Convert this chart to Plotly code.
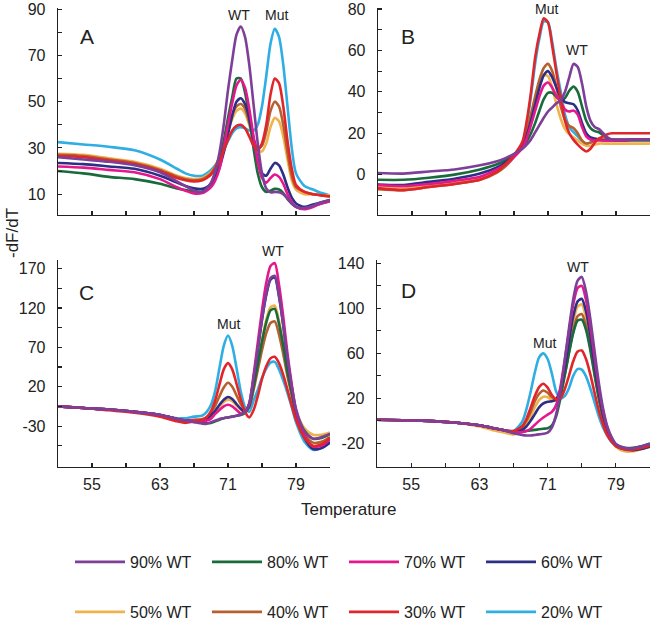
import plotly.graph_objects as go

# ---------------- data ----------------
TEMP = [51, 54, 57, 60, 63, 65, 66, 67, 68, 68.5, 69, 69.5, 70, 70.5, 71, 71.5, 72, 72.5,
        73, 73.5, 74, 74.5, 75, 75.5, 76, 76.5, 77, 77.5, 78, 78.5, 79, 80, 81, 82, 83]

SERIES = ["90% WT", "80% WT", "70% WT", "60% WT", "50% WT", "40% WT", "30% WT", "20% WT"]

# Panel A
A_90 = [26, 25, 24, 22.5, 19.5, 15.5, 13.5, 11.5, 11, 12.5, 15, 20, 28, 40, 55, 68, 79, 82.5, 78, 66, 49, 32, 19, 12.5, 10.8, 11, 10.8, 10, 8, 6, 4.5, 4, 5, 6.5, 7.5]
A_80 = [20, 19, 17.5, 16.5, 14.5, 12.5, 11.8, 11.2, 11.2, 12.5, 14.5, 18.5, 24, 33, 43, 52, 60, 60, 54, 43, 30, 19, 13, 11, 11.5, 12.3, 12, 10.5, 8, 6, 4.5, 4, 5, 6, 7]
A_70 = [22, 21.5, 20.5, 19.5, 16.5, 13, 11.5, 10.3, 10.5, 11.5, 13, 16, 21, 30, 40, 49.5, 57, 59.5, 56, 47, 35, 24, 17, 15, 17, 18.5, 17.5, 14.5, 10, 6.5, 4.5, 3.5, 4.5, 6, 7]
A_60 = [23.5, 23, 22, 21, 18, 15, 13.5, 12.5, 12.3, 13, 14.5, 17, 21.5, 28, 36, 44, 50, 51.5, 49, 43, 34, 25, 19, 18, 21, 23.5, 22.5, 18.5, 13, 8.5, 6, 4.5, 5.5, 6.5, 7.5]
A_50 = [27.5, 27, 25.5, 24, 21, 18, 17, 16.5, 17, 18, 19.5, 22, 26, 31, 37, 42.5, 46, 47, 45, 40, 33.5, 29, 28.5, 32, 39, 43, 41.5, 35, 25, 16, 12, 10, 10, 9.5, 9.5]
A_40 = [27, 26.5, 25, 23.5, 20.5, 17.5, 16.5, 16, 16.5, 17.5, 19, 22, 26, 32, 38.5, 44.5, 48, 49, 47, 41, 34, 30, 31, 37, 46, 50, 48, 40, 28, 18, 13, 11, 10, 9.5, 9]
A_30 = [26.5, 26, 24.5, 23, 20, 17, 16, 15.5, 16, 17, 18.5, 21, 24.5, 29, 33.5, 37.5, 39.5, 40, 38.5, 35, 31, 29, 32, 40, 53, 60, 58, 48, 33, 21, 14, 11, 10, 9.5, 9]
A_20 = [32.5, 31.5, 30.5, 29, 25, 21, 19, 18, 18, 19, 20.5, 22.5, 25.5, 29, 33, 36.5, 38.5, 39, 38.5, 37.5, 37.5, 40, 48, 61, 75, 81.5, 78, 66, 48, 30, 19, 13.5, 12, 10.5, 9.5]

# Panel B
B_90 = [0.8, 0.5, 1.5, 2.5, 4.5, 6.5, 8, 10, 12.5, 14.5, 17, 20.5, 24, 27.5, 30.5, 32.5, 34.5, 36, 40, 47, 53.5, 52, 44, 33, 26, 23, 22, 20, 18, 17, 17, 17, 17, 17, 17]
B_80 = [-2.5, -2.5, -1.5, 0, 2.5, 5, 7, 9.5, 13, 16, 20, 25, 31, 36.5, 39.5, 39.5, 37.5, 36, 37, 40.5, 42.5, 40, 33, 26, 22.5, 21, 20.5, 19, 17.5, 17, 16.5, 16.5, 16.5, 16.5, 16.5]
B_70 = [-5, -5.5, -4.5, -3, -1, 2.5, 5, 8.5, 13, 17.5, 24, 31, 38, 43, 44.5, 42, 38, 35, 31.5, 30.5, 31, 29, 23, 18.5, 17, 16.5, 16.5, 16.5, 16.5, 16.5, 16.5, 16.5, 17, 17, 17]
B_60 = [-4.8, -5, -3.5, -2, 0.5, 3.5, 6, 9, 14, 19, 26, 34, 42, 48, 50, 47, 42, 37.5, 35, 34.5, 34, 31, 25, 20, 18, 17.5, 17, 16.5, 16.5, 16.5, 16.5, 16.5, 17, 17, 17]
B_50 = [-6, -6.5, -5, -3.5, -1.5, 2, 5, 9, 15, 21, 29, 37, 44, 48, 47.5, 42, 34, 27, 22, 19.5, 18, 16.5, 15, 14, 14, 14.5, 15, 15, 15, 15, 15, 15, 15, 15, 15]
B_40 = [-7, -7.5, -6, -4.5, -2.5, 1, 4, 8.5, 15, 21, 29, 38, 46, 51.5, 53.5, 50, 42, 33, 26.5, 23.5, 22.5, 20, 16.5, 15, 15.5, 16.5, 17, 17, 17, 17, 17, 17, 17, 17, 17]
B_30 = [-6.5, -7.5, -6, -4.5, -2.5, 1.5, 5, 9.5, 16, 26, 40, 57, 68, 75.5, 73.5, 62, 49, 37, 26, 20, 16.8, 14.5, 12.5, 11.2, 12.5, 15.5, 17.5, 18.5, 19.5, 20, 20, 20, 20, 20, 20]
B_20 = [-5, -6, -5, -3.5, -1.5, 2, 5, 9, 15, 24, 38, 54, 66, 74, 73.5, 64, 51, 40, 29, 23, 20.5, 18.5, 16, 15, 15.5, 16.5, 17, 17, 17, 17, 17, 17, 17, 17, 17]

# Panel C
C_90 = [-5, -7, -9, -12, -16, -21, -23, -25, -27, -27, -25, -23, -21, -20, -19, -18, -17, -15, -12, -2, 30, 68, 106, 138, 158, 161, 136, 99, 56, 20, -8, -37, -46, -44, -40]
C_80 = [-5, -7, -9, -12, -16, -21, -23, -24, -26, -26.5, -26, -24, -22, -20, -19, -18, -17, -16, -13, -5, 19.5, 48.5, 77.5, 101.5, 117, 119, 100, 72, 39, 12, -13, -36, -46, -45, -40]
C_70 = [-5, -7, -9, -12, -16, -21, -23, -23, -24, -23, -20.5, -14.5, -9.5, -5, -3, -5, -9.5, -14, -12, -1, 34, 75.5, 117, 152, 173.5, 177, 149.5, 109, 62, 23, -10, -42, -56, -55, -47]
C_60 = [-5, -7, -9, -12, -16, -21, -23, -24, -24, -21.5, -16, -10.5, -3, 3.5, 7, 4.5, -2, -8, -12, -2, 29.5, 67, 105, 136.5, 156, 159, 134.5, 98, 55, 19.5, -12, -45, -59, -58, -51]
C_50 = [-5, -7, -9, -12, -16, -21, -23, -24, -24, -21, -16.5, -11.5, -5, 0.5, 3.5, 1.5, -4, -9, -12.5, -4.5, 20.5, 50, 80, 105, 121, 123, 103.5, 74.5, 41, 12.5, -12, -33, -41, -41, -38]
C_40 = [-5, -7, -9, -12, -16, -21, -23, -22, -21, -19, -13, -4, 8, 19, 25, 20, 9, -2, -10, -6, 15.5, 41, 66.5, 88, 101, 103, 86.5, 61.5, 33, 9, -16, -40, -51, -50, -44]
C_30 = [-5, -7, -10, -13, -18, -24, -26, -24, -22, -18.5, -11, 3, 23, 42, 50, 42, 24, 4, -12, -19, -10, 8, 30, 46, 56, 58, 50, 35, 16, -4, -22, -45, -55, -53, -45]
C_20 = [-5, -7, -9, -12, -16, -20, -20, -18, -16.5, -12, -3, 15, 44, 72, 85, 72, 44, 14, -6, -12, 2, 16, 31, 43, 50.5, 51.5, 42, 28, 12, -6, -25, -50, -60, -58, -50]

# Panel D
D_90 = [1, 0.5, 0, -1.5, -4, -7, -8.5, -11, -12.5, -13, -13, -12.5, -12, -11.5, -10.5, -6, 6, 26, 53, 82, 108, 124.5, 128, 115, 91, 62, 34, 11, -5, -14.5, -20.5, -24, -24.5, -22.5, -20.5]
D_80 = [1, 0.5, 0, -1.5, -4, -7, -8.5, -10, -9.5, -9, -8.5, -8, -7.5, -7, -6.5, -4, 4, 20, 40, 60, 78, 89, 90, 81, 63, 41, 20, 3, -9, -16, -21, -24, -24, -22.5, -20]
D_70 = [1, 0.5, 0, -1.5, -4, -7, -8.5, -10, -10, -9, -7, -3.5, 0, 3, 5.5, 8, 14, 30, 54, 79.5, 103.5, 118, 120, 107.5, 84.5, 56.5, 30, 8.5, -6.5, -15.5, -21, -24.5, -25, -23, -21]
D_60 = [1, 0.5, 0, -1.5, -4, -7, -8.5, -10, -8, -5, 0, 6, 12, 15.5, 17, 17.5, 19, 28, 47, 71, 93, 106, 108.5, 97.5, 76, 50, 26, 6, -8, -17, -22, -25, -26, -25, -23]
D_50 = [1, 0.5, 0, -1.5, -5, -9, -10.5, -12, -8, -3, 4, 12, 18.5, 21.5, 21, 18.5, 18, 26, 44, 67, 88, 101.5, 103.5, 92, 72, 47, 24, 5, -9, -17, -23, -27, -27, -25, -23]
D_40 = [1, 0.5, 0, -1.5, -4, -7, -8.5, -9.5, -5.5, 0, 8, 17.5, 24, 27, 25, 21, 20, 26, 41, 61, 80, 93, 95, 84.5, 65.5, 42.5, 21, 3, -9.5, -17, -22, -25.5, -26, -24.5, -22.5]
D_30 = [1, 0.5, 0, -1.5, -4, -7, -8.5, -9, -5, 1.5, 11.5, 22, 30, 33, 29.5, 23, 19, 20, 28, 40, 53, 61.5, 62.5, 55, 41.5, 25, 9, -3.5, -13, -18.5, -22.5, -25, -25.5, -24, -22]
D_20 = [1, 0.5, 0, -1.5, -4, -7, -8.5, -9, -1, 10, 25.5, 43, 56.5, 60, 55, 42, 26, 20, 22, 29, 40, 46, 45.5, 39.5, 29, 16.5, 4, -6, -13, -19, -22, -25, -25, -23, -21]

X_TICKS = [55, 59, 63, 67, 71, 75, 79]
X_TEXT = ["55", "", "63", "", "71", "", "79"]
A_TICKS = [10, 20, 30, 40, 50, 60, 70, 80, 90]
A_TEXT = ["10", "", "30", "", "50", "", "70", "", "90"]
B_TICKS = [-10, 0, 10, 20, 30, 40, 50, 60, 70, 80]
B_TEXT = ["", "0", "", "20", "", "40", "", "60", "", "80"]
C_TICKS = [-55, -30, -5, 20, 45, 70, 95, 120, 145, 170]
C_TEXT = ["", "-30", "", "20", "", "70", "", "120", "", "170"]
D_TICKS = [-20, 0, 20, 40, 60, 80, 100, 120, 140]
D_TEXT = ["-20", "", "20", "", "60", "", "100", "", "140"]

# ---------------- styling ----------------
COLORS = {"90% WT": "#7E3F98", "80% WT": "#1A6B3C", "70% WT": "#E5178C", "60% WT": "#2C2F85",
          "50% WT": "#F0B24E", "40% WT": "#B5602E", "30% WT": "#E0262B", "20% WT": "#2EAEE3"}
FONT = "Liberation Sans, Arial, sans-serif"
INK = "#222222"
W, H = 650, 624

panels = [
    ("x", "y", [A_90, A_80, A_70, A_60, A_50, A_40, A_30, A_20]),
    ("x2", "y2", [B_90, B_80, B_70, B_60, B_50, B_40, B_30, B_20]),
    ("x3", "y3", [C_90, C_80, C_70, C_60, C_50, C_40, C_30, C_20]),
    ("x4", "y4", [D_90, D_80, D_70, D_60, D_50, D_40, D_30, D_20]),
]
draw_order = ["20% WT", "50% WT", "40% WT", "80% WT", "60% WT", "70% WT", "30% WT", "90% WT"]

fig = go.Figure()
for pi, (xa, ya, vals) in enumerate(panels):
    lookup = dict(zip(SERIES, vals))
    for name in draw_order:
        rank = SERIES.index(name)
        fig.add_trace(go.Scatter(
            x=TEMP, y=lookup[name], mode="lines", name=name,
            line=dict(color=COLORS[name], width=2.6, shape="spline", smoothing=0.7),
            xaxis=xa, yaxis=ya,
            showlegend=(pi == 0), legendrank=rank,
            legend="legend" if rank < 4 else "legend2",
            hoverinfo="skip",
        ))

def xdom(a, b):
    return [a / W, b / W]

def ydom(top, bottom):
    return [1 - bottom / H, 1 - top / H]

common_axis = dict(showline=True, linecolor=INK, linewidth=1.3, ticks="inside", ticklen=4,
                   tickwidth=1.1, tickcolor=INK, showgrid=False, zeroline=False,
                   automargin=False, tickfont=dict(family=FONT, size=16, color=INK))

def xaxis(dom, anchor, labels):
    d = dict(common_axis)
    d.update(domain=dom, anchor=anchor, range=[51, 83], tickmode="array",
             tickvals=X_TICKS, ticktext=X_TEXT if labels else [""] * len(X_TICKS),
             ticklabelstandoff=2)
    return d

def yaxis(dom, anchor, rng, tv, tt):
    d = dict(common_axis)
    d.update(domain=dom, anchor=anchor, range=rng, tickmode="array",
             tickvals=tv, ticktext=tt, ticklabelstandoff=8)
    return d

legend_common = dict(orientation="h", xanchor="left", yanchor="middle",
                     itemwidth=50, entrywidth=72, entrywidthmode="pixels",
                     font=dict(family=FONT, size=16, color=INK), bgcolor="rgba(0,0,0,0)",
                     borderwidth=0, traceorder="normal", itemclick=False, itemdoubleclick=False)

fig.update_layout(
    template="none",
    width=W, height=H, margin=dict(l=0, r=0, t=0, b=0, autoexpand=False),
    paper_bgcolor="white", plot_bgcolor="white",
    hovermode=False,
    xaxis=xaxis(xdom(58, 330), "y", False),
    yaxis=yaxis(ydom(8, 215), "x", [1, 90.5], A_TICKS, A_TEXT),
    xaxis2=xaxis(xdom(378, 650), "y2", False),
    yaxis2=yaxis(ydom(8, 215), "x2", [-19.5, 80.5], B_TICKS, B_TEXT),
    xaxis3=xaxis(xdom(58, 330), "y3", True),
    yaxis3=yaxis(ydom(260, 467), "x3", [-82, 181], C_TICKS, C_TEXT),
    xaxis4=xaxis(xdom(377, 650), "y4", True),
    yaxis4=yaxis(ydom(260, 467), "x4", [-41, 143], D_TICKS, D_TEXT),
    legend=dict(legend_common, x=70 / W, y=1 - 562 / H),
    legend2=dict(legend_common, x=70 / W, y=1 - 612 / H),
)

ann_font = dict(family=FONT, size=14, color=INK)
letter_font = dict(family=FONT, size=21, color=INK)

def label(text, px, py, font, **kw):
    return dict(text=text, x=px / W, y=1 - py / H, xref="paper", yref="paper",
                xanchor="center", yanchor="middle", showarrow=False, font=font, **kw)

annotations = [
    label("A", 87, 36, letter_font),
    label("B", 408, 36, letter_font),
    label("C", 86, 292, letter_font),
    label("D", 408, 290, letter_font),
    label("WT", 239, 15, ann_font),
    label("Mut", 276, 15, ann_font),
    label("Mut", 546, 9, ann_font),
    label("WT", 577, 50, ann_font),
    label("WT", 273, 251, ann_font),
    label("Mut", 228, 324, ann_font),
    label("WT", 578, 267, ann_font),
    label("Mut", 544, 343, ann_font),
    label("Temperature", 348, 509, dict(family=FONT, size=17, color=INK)),
    label("-dF/dT", 12, 233, dict(family=FONT, size=17, color=INK), textangle=-90),
]
fig.update_layout(annotations=annotations)

fig.write_html("out.html",
               config={"displayModeBar": False, "staticPlot": True},
               post_script="document.body.style.margin='0';document.body.style.padding='0';")
